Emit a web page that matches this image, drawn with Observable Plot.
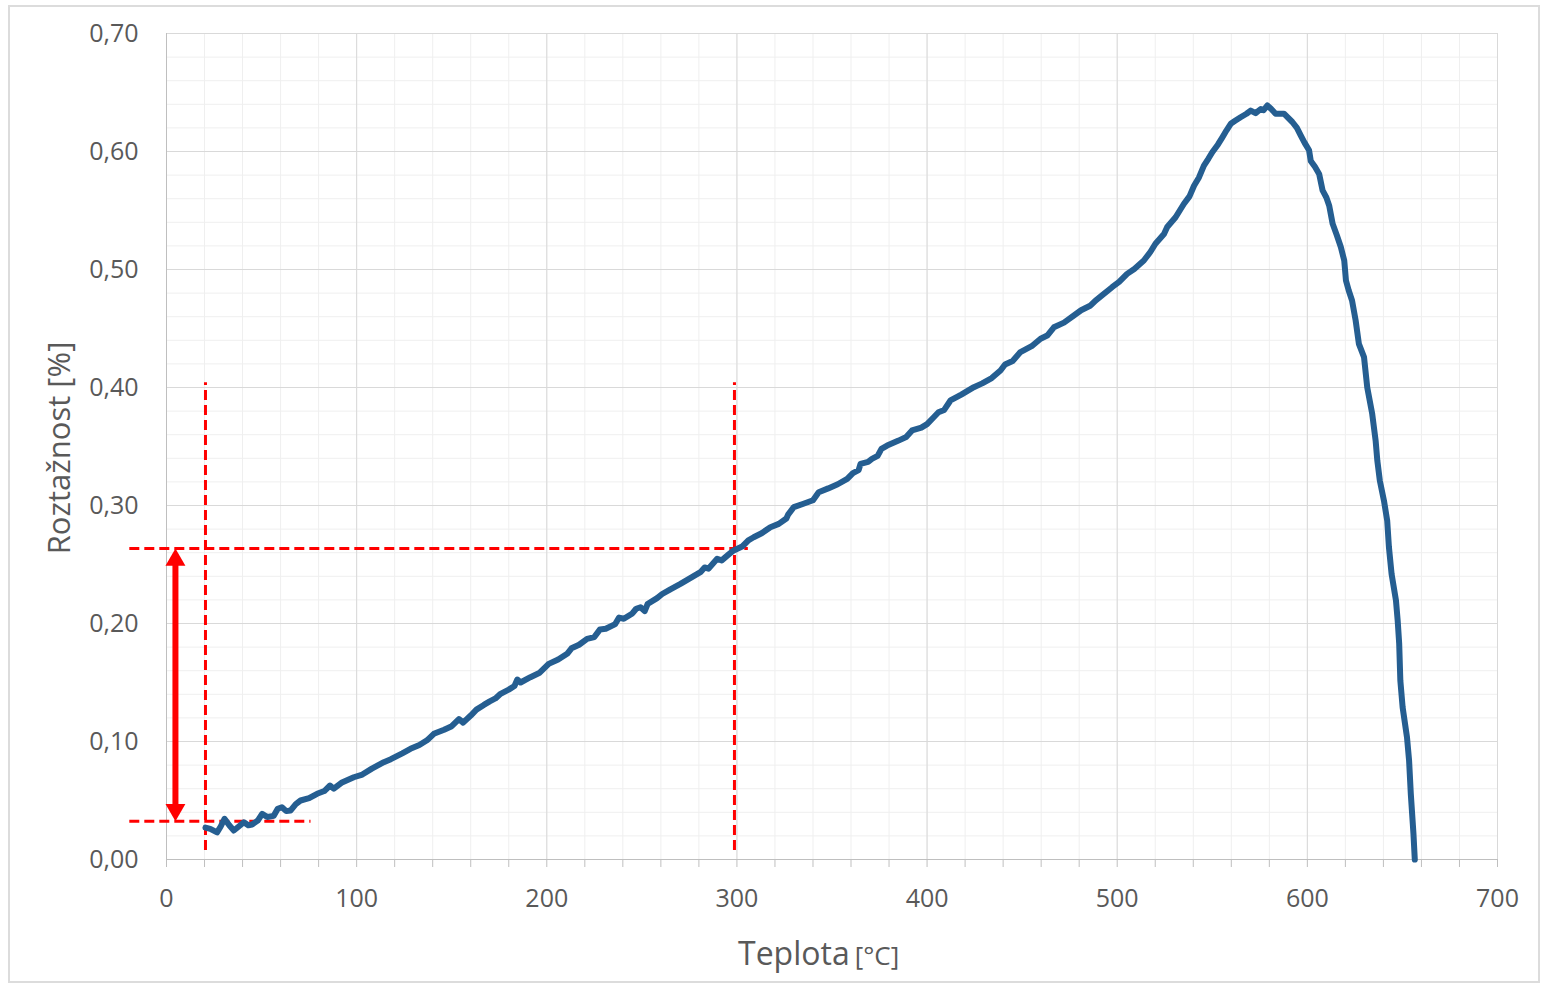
<!DOCTYPE html>
<html>
<head>
<meta charset="utf-8">
<script src="https://cdn.jsdelivr.net/npm/d3@7"></script>
<script src="https://cdn.jsdelivr.net/npm/@observablehq/plot@0.6"></script>
<style>
  html, body { margin: 0; padding: 0; background: #fff; }
  #wrap { position: relative; width: 1544px; height: 987px; }
  #border { position: absolute; left: 8px; top: 5px; width: 1532px; height: 978px; border: 2px solid #dcdcdc; box-sizing: border-box; pointer-events: none; }
  #chart { position: absolute; left: 0; top: 0; }
</style>
</head>
<body>
<div id="wrap"><div id="chart"></div><div id="border"></div></div>
<script>
// ---- data ----
const temps = [20.5,23,26.6,28.5,30.5,33,35.4,38,40.7,43,45,48,50.3,53,56.4,58.5,60.7,63,65.2,68,70.5,75,79.2,83,86,88,92,98.5,103,108,114.3,118,124,128.3,133,137,140.6,146,150,153.8,156,160,163,166.9,170,173,175.7,180,183,184.5,186.2,191.4,196,201,206,210.7,213,217,221.2,225,228,231,236,238,240.5,245,247,249.3,251.5,253,258,260.7,265,270.3,275,280.8,283,285,289.6,292,296,298.3,303,306,308.8,313,317.6,322,326,327,329.9,335,340,343,348,353,358,361,364,365,369,371,374,376,379,385,389,392.1,397,400,403.5,406,409,412.3,418,424.6,429,434,438.6,441,445,449.1,455,459.7,463.2,466.7,472,477.2,481,486,488.6,492,497.3,501,505.2,509,514,517.5,520.1,524.6,526.3,530.7,535.1,538,540.4,543,545.6,548,550,553,555.3,557.5,559.7,562,564.9,568,570.2,572.8,575.5,577,579,581,583.3,587.7,592.1,594.5,596.5,598.5,600.9,601.8,604,606.2,608,610,611.5,613.3,615.5,617.6,619.4,620.3,621.8,623.5,625.4,627.1,629.8,631.5,634.1,635.9,636.8,638.1,640.3,642,642.9,644.3,646.6,647.5,648.3,648.9,650.1,652.4,653.5,654.4,655.8,656.5];
const values = [0.027,0.026,0.023,0.028,0.0345,0.029,0.0246,0.028,0.0316,0.029,0.0297,0.033,0.0387,0.036,0.037,0.043,0.0443,0.041,0.0415,0.047,0.05,0.052,0.0557,0.058,0.0627,0.060,0.065,0.0697,0.072,0.077,0.0825,0.085,0.090,0.0938,0.097,0.101,0.1065,0.110,0.113,0.119,0.116,0.122,0.127,0.131,0.134,0.1365,0.1404,0.144,0.147,0.1525,0.150,0.1545,0.158,0.1658,0.1695,0.1743,0.179,0.182,0.187,0.1885,0.195,0.1955,0.1995,0.205,0.204,0.2085,0.2125,0.2138,0.2105,0.2165,0.2215,0.225,0.229,0.2336,0.238,0.2435,0.2475,0.2465,0.2548,0.2535,0.259,0.2619,0.2655,0.2705,0.2731,0.2765,0.2816,0.2844,0.289,0.2925,0.2986,0.3015,0.3045,0.3113,0.3145,0.318,0.3226,0.3275,0.33,0.3353,0.337,0.3395,0.342,0.348,0.3508,0.355,0.358,0.3636,0.366,0.369,0.3748,0.379,0.381,0.389,0.394,0.4003,0.4035,0.408,0.4144,0.4195,0.4225,0.430,0.435,0.4413,0.444,0.451,0.455,0.461,0.4655,0.4695,0.4737,0.478,0.485,0.4895,0.4963,0.5005,0.5076,0.515,0.5218,0.530,0.536,0.5443,0.5557,0.562,0.571,0.578,0.588,0.594,0.5994,0.606,0.612,0.618,0.6235,0.626,0.629,0.632,0.6347,0.6325,0.636,0.635,0.639,0.636,0.632,0.632,0.625,0.62,0.6136,0.6075,0.601,0.592,0.587,0.581,0.567,0.561,0.554,0.5387,0.529,0.519,0.5076,0.4907,0.482,0.4737,0.4568,0.437,0.4257,0.400,0.3777,0.355,0.338,0.3212,0.304,0.287,0.2647,0.242,0.2195,0.2025,0.1828,0.1517,0.129,0.1036,0.0839,0.0557,0.0218,0.0];

const xMajorTicks = [0,100,200,300,400,500,600,700];
const yMajorTicks = [0,0.1,0.2,0.3,0.4,0.5,0.6,0.7];
const xMinorTicks = d3.range(0, 701, 20);
const yMinorTicks = d3.range(0, 0.7001, 0.02);

// annotation values (red guides)
const guideTemps = [20.5, 298.7];          // vertical dashed guides
const guideLow = 0.0076, guideHigh = 0.404;
const levelLines = [
  {y: 0.2636, x1: -19.3, x2: 306},
  {y: 0.0325, x1: -19.3, x2: 76}
];
const arrowTemp = 4.7, arrowTop = 0.2636, arrowBottom = 0.0325;

const xTitle = "Teplota", xUnit = "[°C]";
const yTitle = "Roztažnost [%]";

const data = temps.map((t, i) => ({t, v: values[i]}));
const red = "#ff0000";

const chart = Plot.plot({
  width: 1544, height: 987,
  marginLeft: 166, marginRight: 47, marginTop: 33, marginBottom: 128,
  x: {domain: [0, 700]},
  y: {domain: [0, 0.7]},
  style: {fontFamily: "'Open Sans', sans-serif", fontSize: "26px", color: "#595959", background: "transparent", overflow: "visible"},
  marks: [
    Plot.gridX(xMinorTicks, {stroke: "#efefef", strokeOpacity: 1, strokeWidth: 1}),
    Plot.gridY(yMinorTicks, {stroke: "#efefef", strokeOpacity: 1, strokeWidth: 1}),
    Plot.gridX(xMajorTicks, {stroke: "#d9d9d9", strokeOpacity: 1, strokeWidth: 1}),
    Plot.gridY(yMajorTicks, {stroke: "#d9d9d9", strokeOpacity: 1, strokeWidth: 1}),
    Plot.ruleX([0], {stroke: "#bfbfbf", strokeWidth: 1}),
    Plot.ruleY([0], {stroke: "#bfbfbf", strokeWidth: 1}),
    Plot.axisX(xMinorTicks, {tickSize: 8, stroke: "#bfbfbf", tickPadding: 22, fill: "#595959", fontSize: 25,
      tickFormat: d => d % 100 === 0 ? String(d) : "", label: null}),
    Plot.axisY(yMajorTicks, {tickSize: 0, tickPadding: 28, fill: "#595959", fontSize: 25,
      tickFormat: d => d.toFixed(2).replace(".", ","), label: null}),
    // red guides
    Plot.ruleX(guideTemps, {y1: guideLow, y2: guideHigh, stroke: red, strokeWidth: 3, strokeDasharray: "10,5"}),
    Plot.ruleY(levelLines, {y: "y", x1: "x1", x2: "x2", stroke: red, strokeWidth: 3, strokeDasharray: "10,5"}),
    // data curve
    Plot.line(data, {x: "t", y: "v", stroke: "#255e91", strokeWidth: 6, strokeLinejoin: "round", strokeLinecap: "round"}),
    // double arrow
    Plot.ruleX([arrowTemp], {y1: arrowBottom + 0.01, y2: arrowTop - 0.01, stroke: red, strokeWidth: 6}),
    Plot.dot([{x: arrowTemp, y: arrowTop}], {x: "x", y: "y", symbol: "triangle", r: 7.4, fill: red, stroke: "none", dy: 11.5}),
    Plot.dot([{x: arrowTemp, y: arrowBottom}], {x: "x", y: "y", symbol: "triangle", r: 7.4, fill: red, stroke: "none", rotate: 180, dy: -11.5})
  ]
});

document.getElementById("chart").appendChild(chart);

const svg = d3.select(chart);
const xt = svg.append("text")
  .attr("x", 738).attr("y", 965)
  .attr("text-anchor", "start")
  .attr("fill", "#595959")
  .style("font-family", "'Open Sans', sans-serif");
xt.append("tspan").attr("font-size", 32).text(xTitle);
xt.append("tspan").attr("font-size", 26).attr("dx", 5).text(xUnit);

svg.append("text")
  .attr("transform", "translate(70,448) rotate(-90)")
  .attr("text-anchor", "middle")
  .attr("fill", "#595959")
  .attr("font-size", 31)
  .style("font-family", "'Open Sans', sans-serif")
  .text(yTitle);
</script>
</body>
</html>
